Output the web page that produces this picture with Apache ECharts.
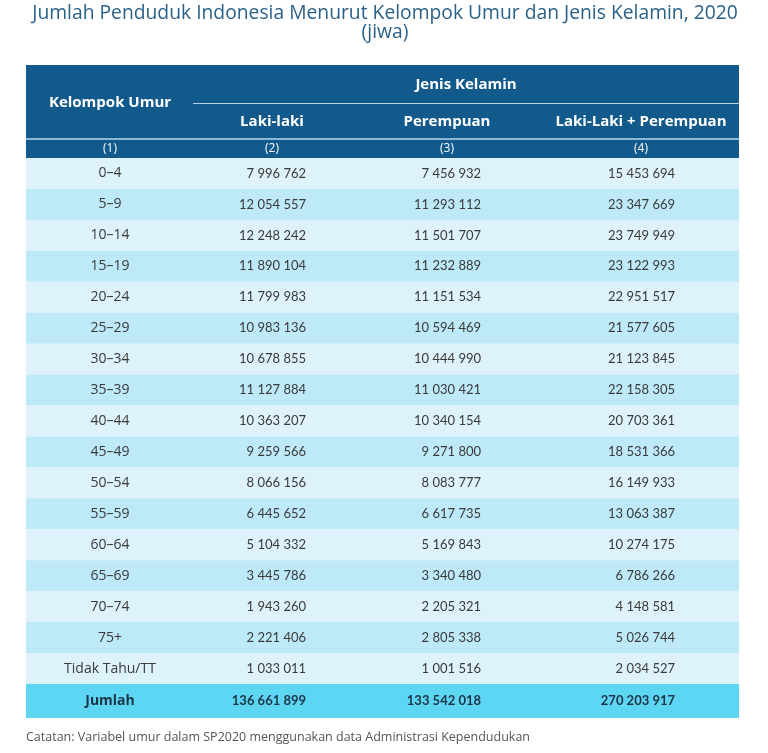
<!DOCTYPE html>
<html>
<head>
<meta charset="utf-8">
<script src="https://cdn.jsdelivr.net/npm/echarts@6/dist/echarts.min.js"></script>
<style>html,body{margin:0;padding:0;background:#fff;}#main{width:768px;height:753px;}</style>
</head>
<body>
<div id="main"></div>
<script>
const titleLines = ['Jumlah Penduduk Indonesia Menurut Kelompok Umur dan Jenis Kelamin, 2020', '(jiwa)'];
const headerGroup = 'Jenis Kelamin';
const headerFirst = 'Kelompok Umur';
const headerCols = ['Laki-laki', 'Perempuan', 'Laki-Laki + Perempuan'];
const colNumbers = ['(1)', '(2)', '(3)', '(4)'];
const ageGroups = ['0–4','5–9','10–14','15–19','20–24','25–29','30–34','35–39','40–44','45–49','50–54','55–59','60–64','65–69','70–74','75+','Tidak Tahu/TT'];
const male = [7996762, 12054557, 12248242, 11890104, 11799983, 10983136, 10678855, 11127884, 10363207, 9259566, 8066156, 6445652, 5104332, 3445786, 1943260, 2221406, 1033011];
const female = [7456932, 11293112, 11501707, 11232889, 11151534, 10594469, 10444990, 11030421, 10340154, 9271800, 8083777, 6617735, 5169843, 3340480, 2205321, 2805338, 1001516];
const total = [15453694, 23347669, 23749949, 23122993, 22951517, 21577605, 21123845, 22158305, 20703361, 18531366, 16149933, 13063387, 10274175, 6786266, 4148581, 5026744, 2034527];
const sumLabel = ['Jumlah'];
const sumMale = [136661899];
const sumFemale = [133542018];
const sumTotal = [270203917];
const note = 'Catatan: Variabel umur dalam SP2020 menggunakan data Administrasi Kependudukan';

function fmt(n){ return String(n).replace(/\B(?=(\d{3})+(?!\d))/g, ' '); }

const TL = 26, TR = 739, TW = TR - TL;
const colCenter1 = 84;
const colRight = [280, 455, 649];
const headCenters = [84, 246, 421, 615];
const numFont = 'Lato, "Open Sans", sans-serif';
const labelFont = '"Open Sans", sans-serif';

function makeRender(fills, bold) {
  return function(params, api) {
    const idx = api.value(1);
    const pt = api.coord([0, idx]);
    const h = api.size([0, 1])[1];
    const cs = params.coordSys;
    const top = pt[1] - h / 2;
    const fill = typeof fills === 'function' ? fills(idx) : fills;
    const weight = bold ? 'bold' : 'normal';
    const color = bold ? '#1e3345' : '#3a3a3a';
    const label = api.value(2);
    const children = [
      {type: 'rect', shape: {x: cs.x, y: top, width: cs.width, height: h}, style: {fill: fill}},
      {type: 'text', style: {x: cs.x + colCenter1, y: pt[1], text: String(label), textAlign: 'center', textVerticalAlign: 'middle', fill: color, font: weight + ' 14px ' + labelFont}}
    ];
    for (let c = 0; c < 3; c++) {
      children.push({type: 'text', style: {x: cs.x + colRight[c], y: pt[1], text: fmt(api.value(3 + c)), textAlign: 'right', textVerticalAlign: 'middle', fill: color, font: weight + ' 13px ' + numFont}});
    }
    return {type: 'group', children: children};
  };
}

const bodyData = ageGroups.map((g, i) => [0, i, g, male[i], female[i], total[i]]);
const sumData = sumLabel.map((g, i) => [0, i, g, sumMale[i], sumFemale[i], sumTotal[i]]);

const headerGraphics = [
  {type: 'rect', shape: {x: TL, y: 65, width: TW, height: 93}, style: {fill: '#125a8b'}},
  {type: 'line', shape: {x1: 193, y1: 103.5, x2: TR, y2: 103.5}, style: {stroke: '#b9d3e6', lineWidth: 1}},
  {type: 'line', shape: {x1: TL, y1: 139, x2: TR, y2: 139}, style: {stroke: '#8bb8d6', lineWidth: 2}},
  {type: 'text', style: {x: TL + headCenters[0], y: 103, text: headerFirst, textAlign: 'center', textVerticalAlign: 'middle', fill: '#fff', font: 'bold 15px "Open Sans", sans-serif'}},
  {type: 'text', style: {x: 466, y: 85, text: headerGroup, textAlign: 'center', textVerticalAlign: 'middle', fill: '#fff', font: 'bold 15px "Open Sans", sans-serif'}},
  {type: 'text', style: {x: 385, y: 14, text: titleLines[0], textAlign: 'center', textVerticalAlign: 'middle', fill: '#2b6189', font: 'normal 19.3px "Open Sans", sans-serif'}},
  {type: 'text', style: {x: 385, y: 33, text: titleLines[1], textAlign: 'center', textVerticalAlign: 'middle', fill: '#2b6189', font: 'normal 19.3px "Open Sans", sans-serif'}},
  {type: 'text', style: {x: TL, y: 737, text: note, textAlign: 'left', textVerticalAlign: 'middle', fill: '#555', font: 'normal 12.5px "Open Sans", sans-serif'}}
];
headerCols.forEach((t, i) => headerGraphics.push({type: 'text', style: {x: TL + headCenters[i + 1], y: 122, text: t, textAlign: 'center', textVerticalAlign: 'middle', fill: '#fff', font: 'bold 15px "Open Sans", sans-serif'}}));
colNumbers.forEach((t, i) => headerGraphics.push({type: 'text', style: {x: TL + headCenters[i], y: 148.5, text: t, textAlign: 'center', textVerticalAlign: 'middle', fill: '#fff', font: 'normal 12px "Open Sans", sans-serif'}}));

const chart = echarts.init(document.getElementById('main'), null, {renderer: 'canvas'});
chart.setOption({
  animation: false,
  grid: [
    {left: TL, width: TW, top: 158, height: 526},
    {left: TL, width: TW, top: 684, height: 34}
  ],
  xAxis: [
    {type: 'value', gridIndex: 0, min: 0, max: 1, show: false},
    {type: 'value', gridIndex: 1, min: 0, max: 1, show: false}
  ],
  yAxis: [
    {type: 'category', gridIndex: 0, data: ageGroups, inverse: true, show: false},
    {type: 'category', gridIndex: 1, data: sumLabel, inverse: true, show: false}
  ],
  graphic: headerGraphics,
  series: [
    {type: 'custom', xAxisIndex: 0, yAxisIndex: 0, data: bodyData, renderItem: makeRender(i => i % 2 === 0 ? '#ddf2fb' : '#bde9f9', false), encode: {x: 0, y: 1}},
    {type: 'custom', xAxisIndex: 1, yAxisIndex: 1, data: sumData, renderItem: makeRender('#5dd6f4', true), encode: {x: 0, y: 1}}
  ]
});
</script>
</body>
</html>
